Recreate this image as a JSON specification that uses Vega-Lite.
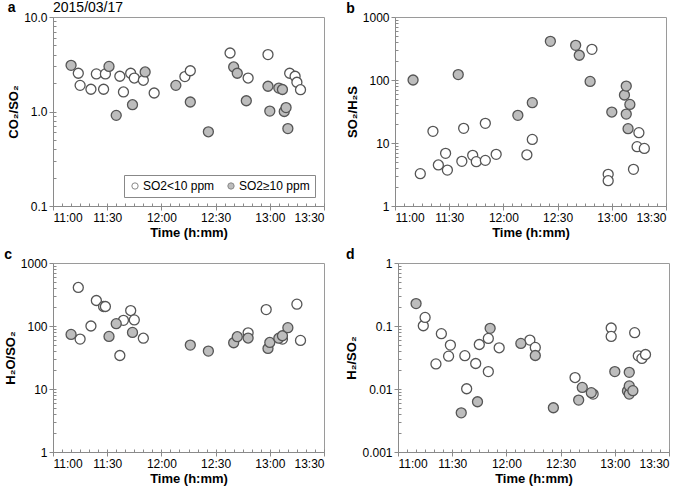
{
  "$schema": "https://vega.github.io/schema/vega-lite/v6.json",
  "padding": {"left": 3, "top": 0, "right": 0, "bottom": 0},
  "config": {
    "font": "Liberation Sans",
    "view": {"stroke": "#9a9a9a", "strokeWidth": 1},
    "axis": {"grid": false, "domainColor": "#8a8a8a", "tickColor": "#8a8a8a", "labelColor": "#000", "labelFontSize": 12, "titleFontSize": 13, "titleFontWeight": "bold", "titleColor": "#000", "labelPadding": 2},
    "axisX": {"titlePadding": 3},
    "axisY": {"titlePadding": 3},
    "title": {"fontSize": 14, "fontWeight": "bold", "anchor": "start", "offset": -5, "color": "#000"}
  },
  "datasets": {
    "da": [
      {"t": "2015-03-17T11:14", "v": 2.54, "g": "SO2<10 ppm"},
      {"t": "2015-03-17T11:15", "v": 1.89, "g": "SO2<10 ppm"},
      {"t": "2015-03-17T11:21", "v": 1.72, "g": "SO2<10 ppm"},
      {"t": "2015-03-17T11:24", "v": 2.5, "g": "SO2<10 ppm"},
      {"t": "2015-03-17T11:28", "v": 1.72, "g": "SO2<10 ppm"},
      {"t": "2015-03-17T11:29", "v": 2.5, "g": "SO2<10 ppm"},
      {"t": "2015-03-17T11:37", "v": 2.36, "g": "SO2<10 ppm"},
      {"t": "2015-03-17T11:39", "v": 1.61, "g": "SO2<10 ppm"},
      {"t": "2015-03-17T11:43", "v": 2.54, "g": "SO2<10 ppm"},
      {"t": "2015-03-17T11:45", "v": 2.26, "g": "SO2<10 ppm"},
      {"t": "2015-03-17T11:50", "v": 2.14, "g": "SO2<10 ppm"},
      {"t": "2015-03-17T11:56", "v": 1.57, "g": "SO2<10 ppm"},
      {"t": "2015-03-17T12:13", "v": 2.34, "g": "SO2<10 ppm"},
      {"t": "2015-03-17T12:16", "v": 2.7, "g": "SO2<10 ppm"},
      {"t": "2015-03-17T12:38", "v": 4.16, "g": "SO2<10 ppm"},
      {"t": "2015-03-17T12:48", "v": 2.26, "g": "SO2<10 ppm"},
      {"t": "2015-03-17T13:11", "v": 2.54, "g": "SO2<10 ppm"},
      {"t": "2015-03-17T13:14", "v": 2.36, "g": "SO2<10 ppm"},
      {"t": "2015-03-17T13:15", "v": 2.04, "g": "SO2<10 ppm"},
      {"t": "2015-03-17T13:17", "v": 1.7, "g": "SO2<10 ppm"},
      {"t": "2015-03-17T11:10", "v": 3.08, "g": "SO2≥10 ppm"},
      {"t": "2015-03-17T11:31", "v": 3.0, "g": "SO2≥10 ppm"},
      {"t": "2015-03-17T11:35", "v": 0.91, "g": "SO2≥10 ppm"},
      {"t": "2015-03-17T11:44", "v": 1.18, "g": "SO2≥10 ppm"},
      {"t": "2015-03-17T11:51", "v": 2.62, "g": "SO2≥10 ppm"},
      {"t": "2015-03-17T12:08", "v": 1.89, "g": "SO2≥10 ppm"},
      {"t": "2015-03-17T12:16", "v": 1.26, "g": "SO2≥10 ppm"},
      {"t": "2015-03-17T12:26", "v": 0.61, "g": "SO2≥10 ppm"},
      {"t": "2015-03-17T12:40", "v": 2.96, "g": "SO2≥10 ppm"},
      {"t": "2015-03-17T12:42", "v": 2.54, "g": "SO2≥10 ppm"},
      {"t": "2015-03-17T12:47", "v": 1.3, "g": "SO2≥10 ppm"},
      {"t": "2015-03-17T12:59", "v": 1.85, "g": "SO2≥10 ppm"},
      {"t": "2015-03-17T13:00", "v": 1.01, "g": "SO2≥10 ppm"},
      {"t": "2015-03-17T13:05", "v": 1.77, "g": "SO2≥10 ppm"},
      {"t": "2015-03-17T13:07", "v": 1.71, "g": "SO2≥10 ppm"},
      {"t": "2015-03-17T13:08", "v": 1.0, "g": "SO2≥10 ppm"},
      {"t": "2015-03-17T13:09", "v": 1.1, "g": "SO2≥10 ppm"},
      {"t": "2015-03-17T13:10", "v": 0.66, "g": "SO2≥10 ppm"},
      {"t": "2015-03-17T12:59", "v": 4.0, "g": "SO2<10 ppm"}
    ],
    "db": [
      {"t": "2015-03-17T11:14", "v": 3.26, "g": "SO2<10 ppm"},
      {"t": "2015-03-17T11:21", "v": 15.3, "g": "SO2<10 ppm"},
      {"t": "2015-03-17T11:24", "v": 4.48, "g": "SO2<10 ppm"},
      {"t": "2015-03-17T11:28", "v": 6.86, "g": "SO2<10 ppm"},
      {"t": "2015-03-17T11:29", "v": 3.72, "g": "SO2<10 ppm"},
      {"t": "2015-03-17T11:37", "v": 5.12, "g": "SO2<10 ppm"},
      {"t": "2015-03-17T11:38", "v": 17.1, "g": "SO2<10 ppm"},
      {"t": "2015-03-17T11:43", "v": 6.37, "g": "SO2<10 ppm"},
      {"t": "2015-03-17T11:45", "v": 5.06, "g": "SO2<10 ppm"},
      {"t": "2015-03-17T11:50", "v": 5.3, "g": "SO2<10 ppm"},
      {"t": "2015-03-17T11:50", "v": 20.5, "g": "SO2<10 ppm"},
      {"t": "2015-03-17T11:56", "v": 6.6, "g": "SO2<10 ppm"},
      {"t": "2015-03-17T12:13", "v": 6.5, "g": "SO2<10 ppm"},
      {"t": "2015-03-17T12:16", "v": 11.4, "g": "SO2<10 ppm"},
      {"t": "2015-03-17T12:49", "v": 307, "g": "SO2<10 ppm"},
      {"t": "2015-03-17T12:58", "v": 3.18, "g": "SO2<10 ppm"},
      {"t": "2015-03-17T12:58", "v": 2.52, "g": "SO2<10 ppm"},
      {"t": "2015-03-17T13:12", "v": 3.82, "g": "SO2<10 ppm"},
      {"t": "2015-03-17T13:14", "v": 8.75, "g": "SO2<10 ppm"},
      {"t": "2015-03-17T13:15", "v": 14.6, "g": "SO2<10 ppm"},
      {"t": "2015-03-17T13:18", "v": 8.2, "g": "SO2<10 ppm"},
      {"t": "2015-03-17T11:10", "v": 100, "g": "SO2≥10 ppm"},
      {"t": "2015-03-17T11:35", "v": 122, "g": "SO2≥10 ppm"},
      {"t": "2015-03-17T12:08", "v": 27.5, "g": "SO2≥10 ppm"},
      {"t": "2015-03-17T12:16", "v": 43.7, "g": "SO2≥10 ppm"},
      {"t": "2015-03-17T12:26", "v": 411, "g": "SO2≥10 ppm"},
      {"t": "2015-03-17T12:40", "v": 355, "g": "SO2≥10 ppm"},
      {"t": "2015-03-17T12:42", "v": 247, "g": "SO2≥10 ppm"},
      {"t": "2015-03-17T12:48", "v": 95, "g": "SO2≥10 ppm"},
      {"t": "2015-03-17T13:00", "v": 31, "g": "SO2≥10 ppm"},
      {"t": "2015-03-17T13:07", "v": 57.8, "g": "SO2≥10 ppm"},
      {"t": "2015-03-17T13:08", "v": 80, "g": "SO2≥10 ppm"},
      {"t": "2015-03-17T13:08", "v": 28.8, "g": "SO2≥10 ppm"},
      {"t": "2015-03-17T13:09", "v": 16.9, "g": "SO2≥10 ppm"},
      {"t": "2015-03-17T13:10", "v": 41, "g": "SO2≥10 ppm"}
    ],
    "dc": [
      {"t": "2015-03-17T11:14", "v": 409, "g": "SO2<10 ppm"},
      {"t": "2015-03-17T11:15", "v": 62, "g": "SO2<10 ppm"},
      {"t": "2015-03-17T11:21", "v": 100, "g": "SO2<10 ppm"},
      {"t": "2015-03-17T11:24", "v": 254, "g": "SO2<10 ppm"},
      {"t": "2015-03-17T11:28", "v": 204, "g": "SO2<10 ppm"},
      {"t": "2015-03-17T11:29", "v": 204, "g": "SO2<10 ppm"},
      {"t": "2015-03-17T11:37", "v": 34, "g": "SO2<10 ppm"},
      {"t": "2015-03-17T11:39", "v": 123, "g": "SO2<10 ppm"},
      {"t": "2015-03-17T11:43", "v": 176, "g": "SO2<10 ppm"},
      {"t": "2015-03-17T11:45", "v": 125, "g": "SO2<10 ppm"},
      {"t": "2015-03-17T11:50", "v": 64, "g": "SO2<10 ppm"},
      {"t": "2015-03-17T12:48", "v": 78, "g": "SO2<10 ppm"},
      {"t": "2015-03-17T12:58", "v": 182, "g": "SO2<10 ppm"},
      {"t": "2015-03-17T13:07", "v": 62, "g": "SO2<10 ppm"},
      {"t": "2015-03-17T13:15", "v": 222, "g": "SO2<10 ppm"},
      {"t": "2015-03-17T13:17", "v": 59, "g": "SO2<10 ppm"},
      {"t": "2015-03-17T11:10", "v": 73.6, "g": "SO2≥10 ppm"},
      {"t": "2015-03-17T11:31", "v": 68.4, "g": "SO2≥10 ppm"},
      {"t": "2015-03-17T11:35", "v": 109, "g": "SO2≥10 ppm"},
      {"t": "2015-03-17T11:44", "v": 79, "g": "SO2≥10 ppm"},
      {"t": "2015-03-17T12:16", "v": 49.8, "g": "SO2≥10 ppm"},
      {"t": "2015-03-17T12:26", "v": 40, "g": "SO2≥10 ppm"},
      {"t": "2015-03-17T12:40", "v": 54.2, "g": "SO2≥10 ppm"},
      {"t": "2015-03-17T12:42", "v": 67.6, "g": "SO2≥10 ppm"},
      {"t": "2015-03-17T12:48", "v": 64.4, "g": "SO2≥10 ppm"},
      {"t": "2015-03-17T12:59", "v": 44, "g": "SO2≥10 ppm"},
      {"t": "2015-03-17T13:00", "v": 54.8, "g": "SO2≥10 ppm"},
      {"t": "2015-03-17T13:05", "v": 64, "g": "SO2≥10 ppm"},
      {"t": "2015-03-17T13:07", "v": 70, "g": "SO2≥10 ppm"},
      {"t": "2015-03-17T13:10", "v": 94, "g": "SO2≥10 ppm"}
    ],
    "dd": [
      {"t": "2015-03-17T11:14", "v": 0.101, "g": "SO2<10 ppm"},
      {"t": "2015-03-17T11:15", "v": 0.137, "g": "SO2<10 ppm"},
      {"t": "2015-03-17T11:21", "v": 0.025, "g": "SO2<10 ppm"},
      {"t": "2015-03-17T11:24", "v": 0.0755, "g": "SO2<10 ppm"},
      {"t": "2015-03-17T11:29", "v": 0.0498, "g": "SO2<10 ppm"},
      {"t": "2015-03-17T11:28", "v": 0.0332, "g": "SO2<10 ppm"},
      {"t": "2015-03-17T11:37", "v": 0.0338, "g": "SO2<10 ppm"},
      {"t": "2015-03-17T11:38", "v": 0.0101, "g": "SO2<10 ppm"},
      {"t": "2015-03-17T11:43", "v": 0.0254, "g": "SO2<10 ppm"},
      {"t": "2015-03-17T11:45", "v": 0.0509, "g": "SO2<10 ppm"},
      {"t": "2015-03-17T11:50", "v": 0.0189, "g": "SO2<10 ppm"},
      {"t": "2015-03-17T11:50", "v": 0.0636, "g": "SO2<10 ppm"},
      {"t": "2015-03-17T11:56", "v": 0.0451, "g": "SO2<10 ppm"},
      {"t": "2015-03-17T12:13", "v": 0.0598, "g": "SO2<10 ppm"},
      {"t": "2015-03-17T12:16", "v": 0.0457, "g": "SO2<10 ppm"},
      {"t": "2015-03-17T12:38", "v": 0.0152, "g": "SO2<10 ppm"},
      {"t": "2015-03-17T12:48", "v": 0.0083, "g": "SO2<10 ppm"},
      {"t": "2015-03-17T12:58", "v": 0.093, "g": "SO2<10 ppm"},
      {"t": "2015-03-17T12:58", "v": 0.0684, "g": "SO2<10 ppm"},
      {"t": "2015-03-17T13:11", "v": 0.0783, "g": "SO2<10 ppm"},
      {"t": "2015-03-17T13:13", "v": 0.0336, "g": "SO2<10 ppm"},
      {"t": "2015-03-17T13:15", "v": 0.0306, "g": "SO2<10 ppm"},
      {"t": "2015-03-17T13:17", "v": 0.0353, "g": "SO2<10 ppm"},
      {"t": "2015-03-17T11:10", "v": 0.227, "g": "SO2≥10 ppm"},
      {"t": "2015-03-17T11:35", "v": 0.00419, "g": "SO2≥10 ppm"},
      {"t": "2015-03-17T11:44", "v": 0.00628, "g": "SO2≥10 ppm"},
      {"t": "2015-03-17T11:51", "v": 0.0918, "g": "SO2≥10 ppm"},
      {"t": "2015-03-17T12:08", "v": 0.0529, "g": "SO2≥10 ppm"},
      {"t": "2015-03-17T12:16", "v": 0.034, "g": "SO2≥10 ppm"},
      {"t": "2015-03-17T12:26", "v": 0.00504, "g": "SO2≥10 ppm"},
      {"t": "2015-03-17T12:40", "v": 0.00667, "g": "SO2≥10 ppm"},
      {"t": "2015-03-17T12:42", "v": 0.0106, "g": "SO2≥10 ppm"},
      {"t": "2015-03-17T12:47", "v": 0.00874, "g": "SO2≥10 ppm"},
      {"t": "2015-03-17T13:00", "v": 0.0189, "g": "SO2≥10 ppm"},
      {"t": "2015-03-17T13:07", "v": 0.0093, "g": "SO2≥10 ppm"},
      {"t": "2015-03-17T13:08", "v": 0.0083, "g": "SO2≥10 ppm"},
      {"t": "2015-03-17T13:08", "v": 0.0184, "g": "SO2≥10 ppm"},
      {"t": "2015-03-17T13:08", "v": 0.0112, "g": "SO2≥10 ppm"},
      {"t": "2015-03-17T13:10", "v": 0.0094, "g": "SO2≥10 ppm"}
    ]
  },
  "spacing": 7,
  "resolve": {"scale": {"fill": "independent"}, "legend": {"fill": "independent"}},
  "vconcat": [
    {
      "spacing": 20,
      "resolve": {"scale": {"fill": "independent"}, "legend": {"fill": "independent"}},
      "hconcat": [
        {
          "title": {"text": "a", "offset": -14},
          "width": 271, "height": 189,
          "data": {"name": "da"},
          "resolve": {"axis": {"x": "independent", "y": "independent"}},
          "layer": [
            {
              "mark": {"type": "point", "opacity": 0},
              "encoding": {
                "x": {"field": "t", "type": "temporal", "scale": {"domain": ["2015-03-17T11:00", "2015-03-17T13:30"]}, "axis": {"orient": "bottom", "tickCount": 30, "labels": false, "domain": false, "tickSize": -3, "title": null}},
                "y": {"field": "v", "type": "quantitative", "scale": {"type": "log", "domain": [0.1, 10], "nice": false}, "axis": {"orient": "left", "values": [0.2, 0.3, 0.4, 0.5, 0.6, 0.7, 0.8, 0.9, 1, 2, 3, 4, 5, 6, 7, 8, 9], "labels": false, "domain": false, "tickSize": -3, "title": null}}
              }
            },
            {
              "mark": {"type": "point", "shape": "circle", "filled": true, "size": 100, "stroke": "#555555", "strokeWidth": 1.3, "opacity": 1},
              "encoding": {
                "x": {"field": "t", "type": "temporal", "scale": {"domain": ["2015-03-17T11:00", "2015-03-17T13:30"]}, "axis": {"orient": "bottom", "format": "%H:%M", "tickSize": 4, "title": "Time (h:mm)"}},
                "y": {"field": "v", "type": "quantitative", "scale": {"type": "log", "domain": [0.1, 10], "nice": false}, "axis": {"orient": "left", "values": [0.1, 1, 10], "format": ".1f", "tickSize": 4, "title": "CO₂/SO₂"}},
                "fill": {"field": "g", "type": "nominal", "scale": {"domain": ["SO2<10 ppm", "SO2≥10 ppm"], "range": ["#ffffff", "#bdbdbd"]},
                  "legend": {"title": null, "orient": "bottom-right", "offset": 9, "direction": "horizontal", "strokeColor": "#888888", "padding": 5, "symbolType": "circle", "symbolSize": 40, "symbolStrokeColor": "#888888", "symbolStrokeWidth": 1, "labelFontSize": 12, "labelColor": "#000", "labelOffset": 2, "columnPadding": 10}}
              }
            },
            {
              "data": {"values": [{"label": "2015/03/17"}]},
              "mark": {"type": "text", "align": "left", "baseline": "bottom", "dy": -2, "fontSize": 14, "color": "#000"},
              "encoding": {
                "x": {"datum": "2015-03-17T11:02", "type": "temporal", "axis": null},
                "y": {"datum": 10, "type": "quantitative", "axis": null},
                "text": {"field": "label"}
              }
            }
          ]
        },
        {
          "title": "b",
          "width": 271, "height": 189,
          "data": {"name": "db"},
          "resolve": {"axis": {"x": "independent", "y": "independent"}},
          "layer": [
            {
              "mark": {"type": "point", "opacity": 0},
              "encoding": {
                "x": {"field": "t", "type": "temporal", "scale": {"domain": ["2015-03-17T11:00", "2015-03-17T13:30"]}, "axis": {"orient": "bottom", "tickCount": 30, "labels": false, "domain": false, "tickSize": -3, "title": null}},
                "y": {"field": "v", "type": "quantitative", "scale": {"type": "log", "domain": [1, 1000], "nice": false}, "axis": {"orient": "left", "values": [2, 3, 4, 5, 6, 7, 8, 9, 10, 20, 30, 40, 50, 60, 70, 80, 90, 100, 200, 300, 400, 500, 600, 700, 800, 900], "labels": false, "domain": false, "tickSize": -3, "title": null}}
              }
            },
            {
              "mark": {"type": "point", "shape": "circle", "filled": true, "size": 100, "stroke": "#555555", "strokeWidth": 1.3, "opacity": 1},
              "encoding": {
                "x": {"field": "t", "type": "temporal", "scale": {"domain": ["2015-03-17T11:00", "2015-03-17T13:30"]}, "axis": {"orient": "bottom", "format": "%H:%M", "tickSize": 4, "title": "Time (h:mm)"}},
                "y": {"field": "v", "type": "quantitative", "scale": {"type": "log", "domain": [1, 1000], "nice": false}, "axis": {"orient": "left", "values": [1, 10, 100, 1000], "format": "~g", "tickSize": 4, "title": "SO₂/H₂S"}},
                "fill": {"field": "g", "type": "nominal", "scale": {"domain": ["SO2<10 ppm", "SO2≥10 ppm"], "range": ["#ffffff", "#bdbdbd"]}, "legend": null}
              }
            }
          ]
        }
      ]
    },
    {
      "spacing": 20,
      "resolve": {"scale": {"fill": "independent"}, "legend": {"fill": "independent"}},
      "hconcat": [
        {
          "title": "c",
          "width": 271, "height": 189,
          "data": {"name": "dc"},
          "resolve": {"axis": {"x": "independent", "y": "independent"}},
          "layer": [
            {
              "mark": {"type": "point", "opacity": 0},
              "encoding": {
                "x": {"field": "t", "type": "temporal", "scale": {"domain": ["2015-03-17T11:00", "2015-03-17T13:30"]}, "axis": {"orient": "bottom", "tickCount": 30, "labels": false, "domain": false, "tickSize": -3, "title": null}},
                "y": {"field": "v", "type": "quantitative", "scale": {"type": "log", "domain": [1, 1000], "nice": false}, "axis": {"orient": "left", "values": [2, 3, 4, 5, 6, 7, 8, 9, 10, 20, 30, 40, 50, 60, 70, 80, 90, 100, 200, 300, 400, 500, 600, 700, 800, 900], "labels": false, "domain": false, "tickSize": -3, "title": null}}
              }
            },
            {
              "mark": {"type": "point", "shape": "circle", "filled": true, "size": 100, "stroke": "#555555", "strokeWidth": 1.3, "opacity": 1},
              "encoding": {
                "x": {"field": "t", "type": "temporal", "scale": {"domain": ["2015-03-17T11:00", "2015-03-17T13:30"]}, "axis": {"orient": "bottom", "format": "%H:%M", "tickSize": 4, "title": "Time (h:mm)"}},
                "y": {"field": "v", "type": "quantitative", "scale": {"type": "log", "domain": [1, 1000], "nice": false}, "axis": {"orient": "left", "values": [1, 10, 100, 1000], "format": "~g", "tickSize": 4, "title": "H₂O/SO₂"}},
                "fill": {"field": "g", "type": "nominal", "scale": {"domain": ["SO2<10 ppm", "SO2≥10 ppm"], "range": ["#ffffff", "#bdbdbd"]}, "legend": null}
              }
            }
          ]
        },
        {
          "title": "d",
          "width": 271, "height": 189,
          "data": {"name": "dd"},
          "resolve": {"axis": {"x": "independent", "y": "independent"}},
          "layer": [
            {
              "mark": {"type": "point", "opacity": 0},
              "encoding": {
                "x": {"field": "t", "type": "temporal", "scale": {"domain": ["2015-03-17T11:00", "2015-03-17T13:30"]}, "axis": {"orient": "bottom", "tickCount": 30, "labels": false, "domain": false, "tickSize": -3, "title": null}},
                "y": {"field": "v", "type": "quantitative", "scale": {"type": "log", "domain": [0.001, 1], "nice": false}, "axis": {"orient": "left", "values": [0.002, 0.003, 0.004, 0.005, 0.006, 0.007, 0.008, 0.009, 0.01, 0.02, 0.03, 0.04, 0.05, 0.06, 0.07, 0.08, 0.09, 0.1, 0.2, 0.3, 0.4, 0.5, 0.6, 0.7, 0.8, 0.9], "labels": false, "domain": false, "tickSize": -3, "title": null}}
              }
            },
            {
              "mark": {"type": "point", "shape": "circle", "filled": true, "size": 100, "stroke": "#555555", "strokeWidth": 1.3, "opacity": 1},
              "encoding": {
                "x": {"field": "t", "type": "temporal", "scale": {"domain": ["2015-03-17T11:00", "2015-03-17T13:30"]}, "axis": {"orient": "bottom", "format": "%H:%M", "tickSize": 4, "title": "Time (h:mm)"}},
                "y": {"field": "v", "type": "quantitative", "scale": {"type": "log", "domain": [0.001, 1], "nice": false}, "axis": {"orient": "left", "values": [0.001, 0.01, 0.1, 1], "format": "~g", "tickSize": 4, "title": "H₂/SO₂"}},
                "fill": {"field": "g", "type": "nominal", "scale": {"domain": ["SO2<10 ppm", "SO2≥10 ppm"], "range": ["#ffffff", "#bdbdbd"]}, "legend": null}
              }
            }
          ]
        }
      ]
    }
  ]
}
